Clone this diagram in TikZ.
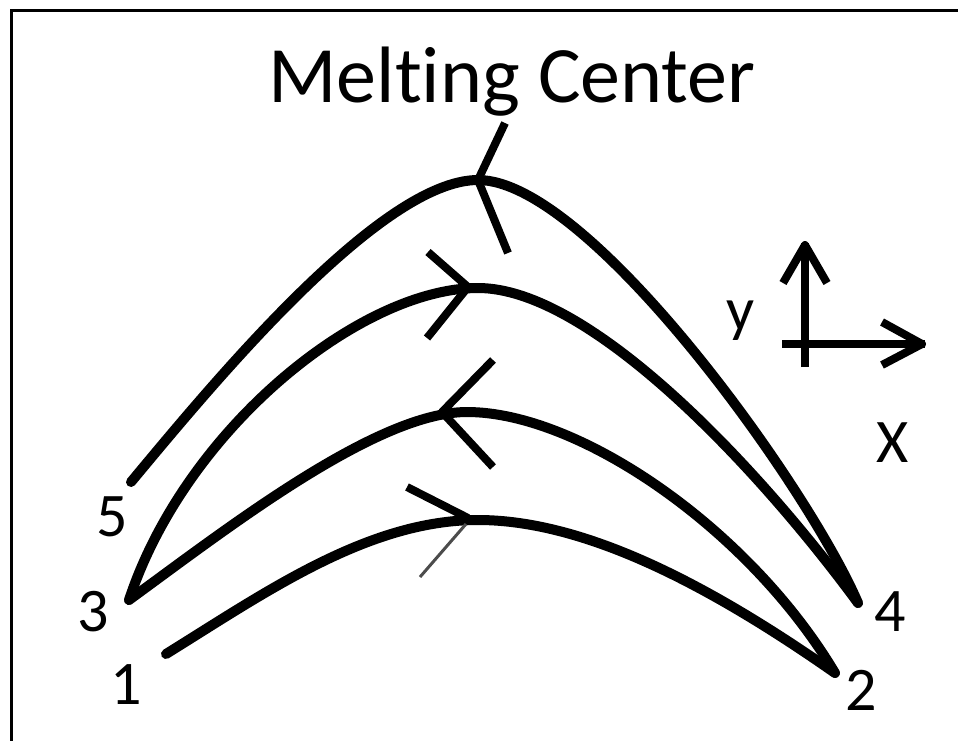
\documentclass[tikz,border=0pt]{standalone}
\usepackage{fontspec}
\setmainfont{Carlito}[Ligatures=NoCommon]
\tikzset{
  curve/.style={line width=10pt, line cap=round, line join=round},
  chev/.style={line width=8pt, line join=round},
  axis/.style={line width=8pt},
  lbl/.style={font=\fontsize{62}{70}\selectfont, inner sep=0pt},
}
\begin{document}
\begin{tikzpicture}[x=1pt,y=-1pt]
\useasboundingbox (0,0) rectangle (958,740);
\fill[white] (0,0) rectangle (958,740);
% frame (left and top edges only visible)
\draw[line width=3pt] (11,742) -- (11,10) -- (960,10);
% title
\node[font=\fontsize{80}{90}\selectfont, inner sep=0pt, anchor=base] (title) at (512,102) {Melt\kern0pt ing Center};
% end points and peaks
\coordinate (p1) at (166,654);
\coordinate (p2) at (835,673);
\coordinate (p3) at (129,600);
\coordinate (p4) at (858,603);
\coordinate (p5) at (131,482);
\coordinate (t1) at (478,520);
\coordinate (t2) at (467,412);
\coordinate (t3) at (478,288);
\coordinate (t4) at (478,180);
% curves
\draw[curve] (p1) .. controls (266,592) and (368,520) .. (t1)
                  .. controls (588,520) and (715,589) .. (p2);
\draw[curve] (p2) .. controls (750,530) and (580,412) .. (t2)
                  .. controls (377,412) and (229,527) .. (p3);
\draw[curve] (p3) .. controls (185,430) and (360,288) .. (t3)
                  .. controls (590,288) and (758,467) .. (p4);
\draw[curve] (p4) .. controls (810,490) and (590,180) .. (t4)
                  .. controls (380,180) and (211,386) .. (p5);
% direction chevrons
\draw[chev] (505,123) -- (478,180) -- (508,253);
\draw[chev] (428,252) -- (468,287) -- (427,338);
\draw[chev] (493,360) -- (442,412) -- (493,467);
\draw[chev] (407,487) -- (468,518);
\draw[line width=3pt, black!70] (466,524) -- (420,577);
% labels
\node[lbl] (l5) at (112,517) {5};
\node[lbl] (l3) at (93,612) {3};
\node[lbl] (l1) at (126,685) {1};
\node[lbl] (l4) at (890,612) {4};
\node[lbl] (l2) at (861,690) {2};
% axes
\coordinate (o) at (805,344);
\draw[axis] (805,367) -- (805,243);
\draw[axis, line join=round] (783,283) -- (805,245) -- (827,283);
\draw[axis] (782,344) -- (925,344);
\draw[axis, line join=round] (882,322) -- (922,344) -- (882,365);
\node[lbl, anchor=base] (ly) at (741,330) {y};
\node[lbl] (lx) at (893,443) {X};
\end{tikzpicture}
\end{document}
